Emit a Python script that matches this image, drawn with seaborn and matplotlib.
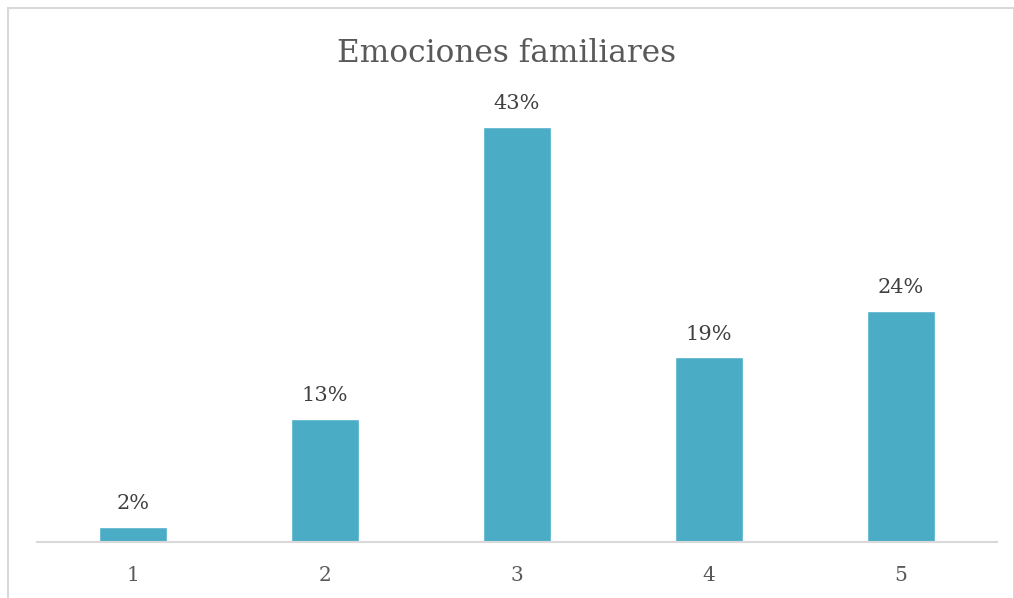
import matplotlib
matplotlib.use("Agg")
import matplotlib.pyplot as plt
import seaborn as sns
import pandas as pd
from matplotlib.patches import Rectangle

categories = ["1", "2", "3", "4", "5"]
values = [1.6, 12.7, 43, 19.1, 23.9]
labels = ["2%", "13%", "43%", "19%", "24%"]
title = "Emociones familiares"

sns.set_theme(style="white")
plt.rcParams['font.family'] = ['DejaVu Serif']

W, H = 1014, 598
fig = plt.figure(figsize=(W / 100, H / 100), dpi=100)
ax = fig.add_axes([37 / W, 1 - 542 / H, 960 / W, (542 - 85) / H])

df = pd.DataFrame({"cat": categories, "val": values})
sns.barplot(data=df, x="cat", y="val", color="#4BACC6", width=0.354, ax=ax, saturation=1)

ax.set_xlim(-0.5, 4.5)
ax.set_ylim(0, 47.3)
ax.set_xlabel("")
ax.set_ylabel("")
ax.set_yticks([])
for s in ["top", "left", "right"]:
    ax.spines[s].set_visible(False)
ax.spines["bottom"].set_color("#D9D9D9")
ax.spines["bottom"].set_linewidth(1.5)
ax.tick_params(axis="x", length=0, pad=17, labelsize=14.5, labelcolor="#595959")

for i, (v, lab) in enumerate(zip(values, labels)):
    ax.annotate(lab, (i, v), xytext=(0, 10), textcoords="offset points",
                ha="center", va="bottom", fontsize=15, color="#404040")

fig.text(0.5, 1 - 53 / H, title, ha="center", va="center", fontsize=22.5, color="#595959")

fig.patches.append(Rectangle((8 / W, -0.1), (W - 8) / W, 1 - 8 / H + 0.1,
                             transform=fig.transFigure, fill=False,
                             edgecolor="#D9D9D9", linewidth=1.5))

fig.savefig("out.png", dpi=100)
